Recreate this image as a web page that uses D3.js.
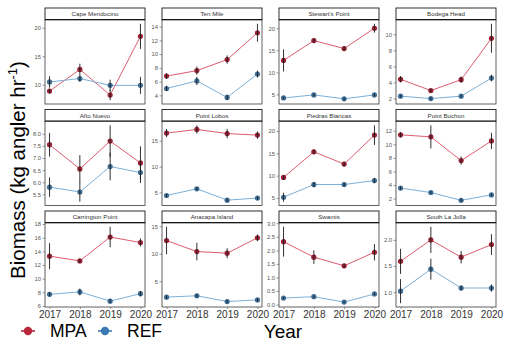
<!DOCTYPE html>
<html>
<head>
<meta charset="utf-8">
<script src="https://cdn.jsdelivr.net/npm/d3@7"></script>
<style>
  body { margin: 0; background: #fff; }
  svg { display: block; font-family: "Liberation Sans", Arial, sans-serif; }
</style>
</head>
<body>
<svg id="chart" width="510" height="343"></svg>
<script>
// Sites, in facet order (four per row)
const sites = [
  "Cape Mendocino", "Ten Mile", "Stewart's Point", "Bodega Head",
  "Año Nuevo", "Point Lobos", "Piedras Blancas", "Point Buchon",
  "Carrington Point", "Anacapa Island", "Swamis", "South La Jolla"
];
const years = [2017, 2018, 2019, 2020];
const seriesNames = ["MPA", "REF"];

// Mean biomass (kg per angler hour) and standard error, one row per site
const mpaMean = [
  [8.9, 12.7, 8.2, 18.5],
  [6.8, 7.6, 9.2, 13.1],
  [12.7, 17.2, 15.4, 20.0],
  [4.4, 3.0, 4.35, 9.5],
  [7.55, 6.55, 7.7, 6.8],
  [16.5, 17.2, 16.4, 16.1],
  [9.6, 15.35, 12.6, 19.1],
  [11.4, 11.1, 7.6, 10.5],
  [13.3, 12.6, 16.1, 15.3],
  [12.4, 10.4, 10.1, 12.9],
  [2.32, 1.75, 1.43, 1.93],
  [1.59, 2.0, 1.67, 1.91]
];
const mpaSE = [
  [0.4, 1.0, 0.9, 2.2],
  [0.4, 0.6, 0.6, 1.3],
  [2.5, 0.5, 0.5, 1.0],
  [0.4, 0.2, 0.4, 1.8],
  [0.49, 0.57, 0.65, 0.68],
  [0.8, 0.8, 0.9, 0.7],
  [0.5, 0.5, 0.5, 2.2],
  [0.4, 1.7, 0.6, 1.2],
  [1.9, 0.3, 1.5, 0.6],
  [2.5, 1.6, 0.9, 0.6],
  [0.55, 0.25, 0.08, 0.3],
  [0.24, 0.25, 0.12, 0.2]
];
const refMean = [
  [10.5, 11.1, 9.9, 9.9],
  [5.0, 6.1, 3.7, 7.1],
  [4.2, 4.9, 4.0, 4.9],
  [2.3, 2.0, 2.3, 4.55],
  [5.8, 5.6, 6.65, 6.4],
  [4.4, 5.7, 3.5, 3.9],
  [5.15, 8.0, 8.0, 8.9],
  [3.55, 2.9, 1.75, 2.55],
  [7.7, 8.05, 6.7, 7.8],
  [2.1, 2.35, 1.3, 1.6],
  [0.24, 0.29, 0.09, 0.39],
  [1.02, 1.44, 1.08, 1.08]
];
const refSE = [
  [1.0, 0.6, 1.0, 1.5],
  [0.4, 0.6, 0.4, 0.5],
  [0.3, 0.3, 0.3, 0.3],
  [0.15, 0.2, 0.15, 0.4],
  [0.4, 0.4, 0.57, 0.43],
  [0.3, 0.3, 0.3, 0.3],
  [1.0, 0.6, 0.4, 0.6],
  [0.2, 0.2, 0.2, 0.2],
  [0.3, 0.5, 0.3, 0.4],
  [0.3, 0.3, 0.3, 0.3],
  [0.04, 0.04, 0.04, 0.04],
  [0.23, 0.2, 0.05, 0.07]
];

// Y-axis tick labels per site panel
const yTicks = [
  [10, 15, 20],
  [4, 6, 8, 10, 12, 14],
  [5, 10, 15, 20],
  [2, 4, 6, 8, 10],
  [5.5, 6.0, 6.5, 7.0, 7.5, 8.0],
  [5, 10, 15],
  [5, 10, 15, 20],
  [2, 4, 6, 8, 10, 12],
  [6, 8, 10, 12, 14, 16, 18],
  [5, 10, 15],
  [0.0, 0.5, 1.0, 1.5, 2.0, 2.5, 3.0],
  [1.0, 1.5, 2.0]
];
const yTickFormats = ["d", "d", "d", "d", ".1f", "d", "d", "d", "d", "d", ".1f", ".1f"];

const palette = {
  MPA: { line: "#dc5d70", point: "#9a2236", key: "#b8283d" },
  REF: { line: "#7cb0d8", point: "#3f6f97", key: "#3b79b3" }
};

const svg = d3.select("#chart");

// Facet grid geometry
const panelW = 100, panelH = 84, stripH = 12;
const colX = c => 45 + c * 117;
const rowY = r => 8 + r * 101.5;

const x = d3.scaleLinear()
  .domain([years[0] - 0.15, years[years.length - 1] + 0.15])
  .range([0, panelW]);

sites.forEach((site, i) => {
  const r = Math.floor(i / 4), c = i % 4;
  const g = svg.append("g").attr("transform", `translate(${colX(c)},${rowY(r)})`);

  const series = [
    { name: "MPA", mean: mpaMean[i], se: mpaSE[i] },
    { name: "REF", mean: refMean[i], se: refSE[i] }
  ];
  const lo = d3.min(series, s => d3.min(s.mean, (m, j) => m - s.se[j]));
  const hi = d3.max(series, s => d3.max(s.mean, (m, j) => m + s.se[j]));
  const pad = (hi - lo) * 0.05;
  const y = d3.scaleLinear().domain([lo - pad, hi + pad]).range([panelH, 0]);

  // strip with site name
  g.append("rect")
    .attr("x", 0).attr("y", 0).attr("width", panelW).attr("height", stripH)
    .attr("fill", "#fff").attr("stroke", "#1a1a1a").attr("stroke-width", 0.9);
  g.append("line")
    .attr("x1", 0).attr("x2", panelW).attr("y1", stripH).attr("y2", stripH)
    .attr("stroke", "#000").attr("stroke-width", 2);
  g.append("text")
    .attr("x", panelW / 2).attr("y", stripH / 2 + 2.2)
    .attr("text-anchor", "middle")
    .attr("font-size", 6.2).attr("fill", "#333")
    .text(site);

  const p = g.append("g").attr("transform", `translate(0,${stripH})`);

  p.append("rect")
    .attr("x", 0).attr("y", 0).attr("width", panelW).attr("height", panelH)
    .attr("fill", "#fff").attr("stroke", "#3a3a3a").attr("stroke-width", 0.8);

  // y axis
  const ya = p.append("g").call(
    d3.axisLeft(y).tickValues(yTicks[i]).tickFormat(d3.format(yTickFormats[i]))
      .tickSize(2.5).tickPadding(1.5)
  );
  ya.select(".domain").remove();
  ya.selectAll("line").attr("stroke", "#555").attr("stroke-width", 0.6);
  ya.selectAll("text").attr("font-size", 5.8).attr("fill", "#555")
    .attr("font-family", "Liberation Sans, Arial, sans-serif");

  // x axis labels on bottom row
  if (r === 2) {
    const xa = p.append("g").attr("transform", `translate(0,${panelH})`).call(
      d3.axisBottom(x).tickValues(years).tickFormat(d3.format("d"))
        .tickSize(2).tickPadding(1.8)
    );
    xa.select(".domain").remove();
    xa.selectAll("line").attr("stroke", "#555").attr("stroke-width", 0.6);
    xa.selectAll("text").attr("font-size", 10).attr("fill", "#333")
      .attr("font-family", "Liberation Sans, Arial, sans-serif");
  }

  const line = d3.line().x((d, j) => x(years[j])).y(d => y(d));

  series.forEach(s => {
    p.append("path")
      .attr("d", line(s.mean))
      .attr("fill", "none")
      .attr("stroke", palette[s.name].line)
      .attr("stroke-width", 1);
  });
  series.forEach(s => {
    p.selectAll(null).data(s.mean).enter().append("circle")
      .attr("cx", (d, j) => x(years[j]))
      .attr("cy", d => y(d))
      .attr("r", 2.6)
      .attr("fill", palette[s.name].point);
    p.selectAll(null).data(s.mean).enter().append("line")
      .attr("x1", (d, j) => x(years[j]))
      .attr("x2", (d, j) => x(years[j]))
      .attr("y1", (d, j) => y(d - s.se[j]))
      .attr("y2", (d, j) => y(d + s.se[j]))
      .attr("stroke", "#1a1a1a")
      .attr("stroke-width", 0.9);
  });
});

// Axis titles
const yTitle = svg.append("text")
  .attr("transform", "translate(25,170) rotate(-90)")
  .attr("text-anchor", "middle")
  .attr("font-size", 20.5)
  .attr("fill", "#000");
yTitle.append("tspan").text("Biomass (kg angler hr");
yTitle.append("tspan").attr("font-size", 13).attr("dy", -8).text("-1");
yTitle.append("tspan").attr("dy", 8).text(")");

svg.append("text")
  .attr("x", 283).attr("y", 338)
  .attr("text-anchor", "middle")
  .attr("font-size", 19)
  .attr("fill", "#000")
  .text("Year");

// Legend
const legend = svg.append("g").attr("transform", "translate(0,331)");
const legendX = [28, 105];
seriesNames.forEach((name, k) => {
  const lg = legend.append("g").attr("transform", `translate(${legendX[k]},0)`);
  lg.append("line").attr("x1", -7).attr("x2", 7).attr("y1", 0).attr("y2", 0)
    .attr("stroke", palette[name].key).attr("stroke-width", 1.6);
  lg.append("line").attr("x1", 0).attr("x2", 0).attr("y1", -4).attr("y2", 4)
    .attr("stroke", palette[name].key).attr("stroke-width", 1.6);
  lg.append("circle").attr("r", 4.2).attr("fill", palette[name].key);
  lg.append("text").attr("x", 22).attr("y", 6.3)
    .attr("font-size", 17.5).attr("fill", "#000").text(name);
});
</script>
</body>
</html>
